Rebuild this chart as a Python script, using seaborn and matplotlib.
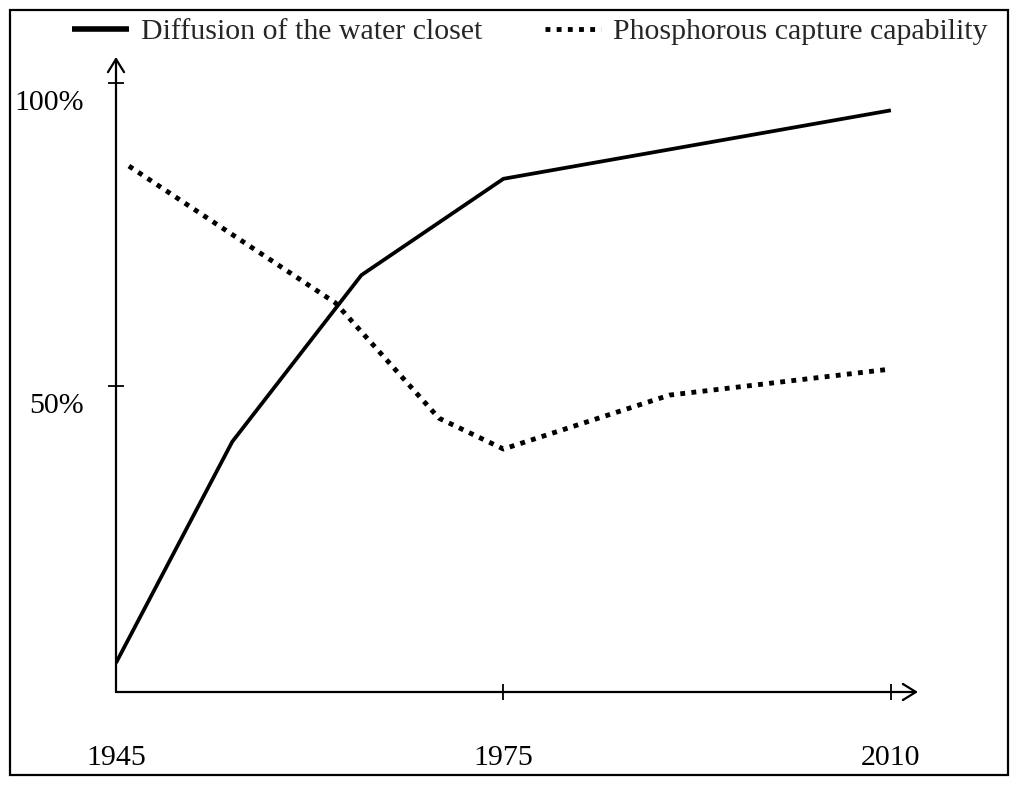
import numpy as np
import pandas as pd
import matplotlib
matplotlib.use("Agg")
import matplotlib.pyplot as plt
from matplotlib.patches import Rectangle
from matplotlib.transforms import ScaledTranslation
import seaborn as sns

# ---- data ----
tick_years = [1945, 1975, 2010]
tick_labels = ["1945", "1975", "2010"]
y_ticks = [50, 100]
y_tick_labels = ["50%", "100%"]

wc_years = [1945, 1954, 1964, 1975, 2010]
wc_values = [4.3, 40.8, 68.3, 84.2, 95.5]

ph_years = [1946, 1962, 1970, 1975, 1990, 2010]
ph_values = [86.3, 63.7, 44.7, 39.6, 48.5, 52.8]

wc_label = "Diffusion of the water closet"
ph_label = "Phosphorous capture capability"

# ---- style ----
sns.set_style("white")
plt.rcParams["font.family"] = ["Liberation Serif", "DejaVu Serif"]
FS = 21.5

# x axis: the three labelled years are evenly spaced on the chart
tick_pos = np.arange(len(tick_years), dtype=float)
def year_pos(years):
    return np.interp(years, tick_years, tick_pos)

wc_df = pd.DataFrame({"pos": year_pos(wc_years), "value": wc_values})
ph_df = pd.DataFrame({"pos": year_pos(ph_years), "value": ph_values})

fig = plt.figure(figsize=(10.24, 7.92), dpi=100)
ax = fig.add_axes([116 / 1024, 100 / 792, (918 - 116) / 1024, (692 - 57) / 792])

sns.lineplot(data=wc_df, x="pos", y="value", ax=ax, color="black", lw=2.7,
             label=wc_label, solid_capstyle="butt", solid_joinstyle="round")
sns.lineplot(data=ph_df, x="pos", y="value", ax=ax, color="black", lw=3.5,
             label=ph_label, dashes=False)
ph_line = ax.get_lines()[-1]
ph_line.set_linestyle((0, (1.0, 1.3)))
ph_line.set_dash_capstyle("butt")

ax.set_xlim(0, 2.07)
ax.set_ylim(-0.5, 104.3)
ax.set_xlabel("")
ax.set_ylabel("")
for s in ax.spines.values():
    s.set_visible(False)

# axes with arrow heads
arrow_kw = dict(arrowstyle="->,head_length=0.47,head_width=0.29", lw=1.6,
                color="black", mutation_scale=20, shrinkA=0, shrinkB=0)
ax.annotate("", xy=(0, 1), xytext=(0, 0), xycoords="axes fraction",
            textcoords="axes fraction", arrowprops=arrow_kw)
ax.annotate("", xy=(1, 0), xytext=(0, 0), xycoords="axes fraction",
            textcoords="axes fraction", arrowprops=arrow_kw)

ax.set_xticks(tick_pos)
ax.set_xticklabels(tick_labels)
ax.set_yticks(y_ticks)
ax.set_yticklabels(y_tick_labels)
ax.tick_params(axis="both", direction="inout", length=12, width=1.3,
               colors="black", labelsize=FS, bottom=True, left=True)
ax.tick_params(axis="x", pad=32)
ax.tick_params(axis="y", pad=17)
ax.xaxis.get_major_ticks()[0].tick1line.set_visible(False)
off = ScaledTranslation(0, -17 / 100, fig.dpi_scale_trans)
for lab in ax.get_yticklabels():
    lab.set_transform(lab.get_transform() + off)
ax.grid(False)

# legend on top
handles, labels = ax.get_legend_handles_labels()
ax.get_legend().remove()
leg = fig.legend(handles, labels, loc="center",
                 bbox_to_anchor=(530 / 1024, 1 - 32 / 792),
                 ncol=2, frameon=False, fontsize=FS, handlelength=1.9,
                 handletextpad=0.4, columnspacing=2.1)
leg.get_lines()[0].set_linewidth(4.0)

# outer frame
fig.add_artist(Rectangle((10 / 1024, 17 / 792), 998 / 1024, 765 / 792,
                         transform=fig.transFigure, fill=False, lw=1.6,
                         ec="black"))

fig.savefig("out.png", dpi=100)
